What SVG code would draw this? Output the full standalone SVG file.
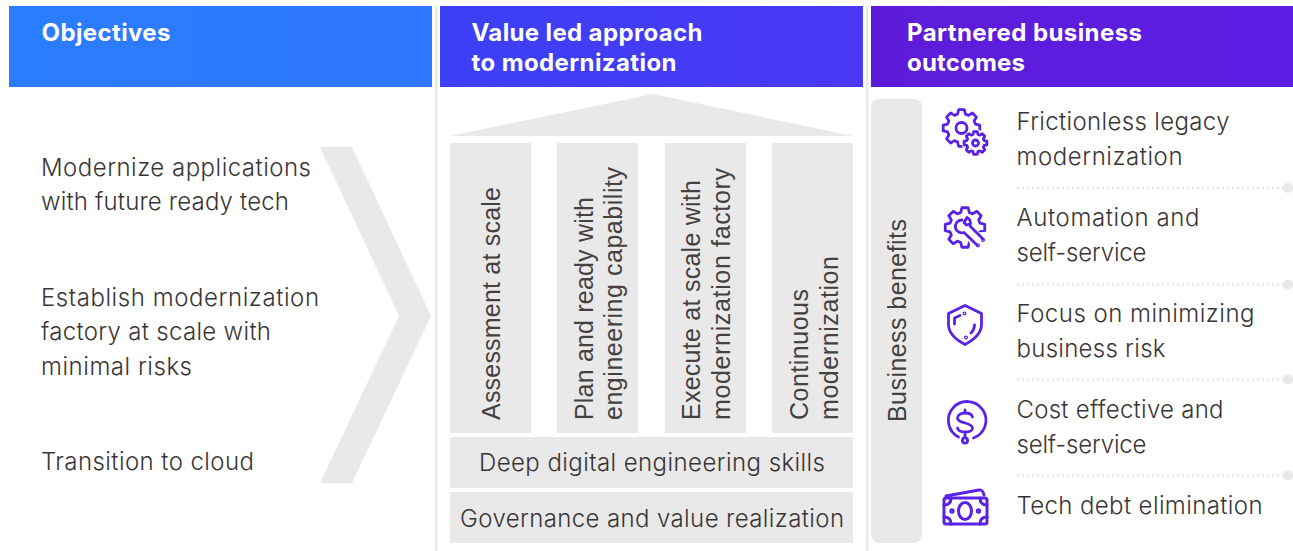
<svg xmlns="http://www.w3.org/2000/svg" width="1293" height="551" viewBox="0 0 1293 551">
<style>
.h{font:700 24px Inter,"Liberation Sans",sans-serif;fill:#fff}
.t{font:300 24px Inter,"Liberation Sans",sans-serif;fill:#3a3535}
.r{font:400 25px "Liberation Sans",Arial,sans-serif;fill:#454141}
.g{fill:#e9e9e9}
.i{fill:none;stroke:#5a22e6;stroke-width:2.8;stroke-linecap:round;stroke-linejoin:round}
.n{vector-effect:non-scaling-stroke}
.d{fill:none;stroke:#e9e9e9;stroke-width:3;stroke-dasharray:2 3}
</style>
<defs>
<linearGradient id="g1" x1="0" x2="1" y1="0" y2="0"><stop offset="0" stop-color="#2b7dff"/><stop offset="1" stop-color="#2f77ff"/></linearGradient>
<linearGradient id="g2" x1="0" x2="1" y1="0" y2="0"><stop offset="0" stop-color="#3c40f8"/><stop offset="1" stop-color="#4a38f4"/></linearGradient>
<linearGradient id="g3" x1="0" x2="1" y1="0" y2="0"><stop offset="0" stop-color="#5e1cd9"/><stop offset="1" stop-color="#5c1ee3"/></linearGradient>
<polygon id="gear" class="n" points="75,-21.500 98.800,-15.600 98.800,15.600 75,21.500 68.200,37.800 80.900,58.800 58.800,80.900 37.800,68.200 21.500,75 15.600,98.800 -15.600,98.800 -21.500,75 -37.800,68.200 -58.800,80.900 -80.900,58.800 -68.200,37.800 -75,21.500 -98.800,15.600 -98.800,-15.600 -75,-21.500 -68.200,-37.800 -80.900,-58.800 -58.800,-80.900 -37.800,-68.200 -21.500,-75 -15.600,-98.800 15.600,-98.800 21.500,-75 37.800,-68.200 58.800,-80.900 80.900,-58.800 68.200,-37.800"/>
</defs>
<g id="dividers"><rect class="g" x="435" y="6" width="2.5" height="545"/><rect class="g" x="866" y="6" width="2.5" height="545"/></g>
<g id="header-objectives"><rect x="9" y="6" width="423" height="81" fill="url(#g1)"/><text class="h" x="41.500" y="41" textLength="129">Objectives</text></g>
<g id="header-value"><rect x="440" y="6" width="423" height="81" fill="url(#g2)"/><text class="h" x="471.500" y="41" textLength="231">Value led approach</text><text class="h" x="471.500" y="71" textLength="205">to modernization</text></g>
<g id="header-outcomes"><rect x="871" y="6" width="422" height="81" fill="url(#g3)"/><text class="h" x="907" y="41" textLength="235">Partnered business</text><text class="h" x="907" y="71" textLength="118">outcomes</text></g>
<g id="chevron"><polygon class="g" points="320,147 352,147 431,316 352,483 320,483 399,316"/></g>
<g id="objectives"><text class="t" x="41" y="176" textLength="270">Modernize applications</text><text class="t" x="41" y="210" textLength="248">with future ready tech</text>
<text class="t" x="41" y="306" textLength="278">Establish modernization</text><text class="t" x="41" y="340" textLength="230">factory at scale with</text><text class="t" x="41" y="375" textLength="151">minimal risks</text>
<text class="t" x="41" y="470" textLength="213">Transition to cloud</text></g>
<g id="pediment"><polygon class="g" points="653,94 853,136 450,136"/></g>
<g id="col1"><rect class="g" x="450" y="143" width="81" height="290"/><text class="r" transform="translate(500,420) rotate(-90)" textLength="233">Assessment at scale</text></g>
<g id="col2"><rect class="g" x="557" y="143" width="81" height="290"/><text class="r" transform="translate(593,420) rotate(-90)" textLength="223">Plan and ready with</text><text class="r" transform="translate(622,420) rotate(-90)" textLength="253">engineering capability</text></g>
<g id="col3"><rect class="g" x="665" y="143" width="81" height="290"/><text class="r" transform="translate(700,420) rotate(-90)" textLength="240">Execute at scale with</text><text class="r" transform="translate(729.500,420) rotate(-90)" textLength="252">modernization factory</text></g>
<g id="col4"><rect class="g" x="772" y="143" width="81" height="290"/><text class="r" transform="translate(807.500,420) rotate(-90)" textLength="131">Continuous</text><text class="r" transform="translate(837.500,420) rotate(-90)" textLength="164">modernization</text></g>
<g id="bar1"><rect class="g" x="450" y="437" width="403" height="51"/><text class="t" x="479" y="471" textLength="346">Deep digital engineering skills</text></g>
<g id="bar2"><rect class="g" x="450" y="492" width="403" height="51"/><text class="t" x="460" y="527" textLength="384">Governance and value realization</text></g>
<g id="benefits"><rect class="g" x="871" y="99" width="51" height="444" rx="8"/><text class="r" transform="translate(906,422) rotate(-90)" textLength="203">Business benefits</text></g>
<g id="outcome1">
<g class="i"><use href="#gear" transform="translate(961.500,128) scale(.185)"/><circle cx="961.500" cy="128" r="5.500"/><circle cx="975.500" cy="143" r="13.500" fill="#fff" stroke="none"/><use href="#gear" transform="translate(975.500,143) scale(.115)"/><circle cx="975.500" cy="143" r="3"/></g>
<text class="t" x="1016.500" y="130" textLength="213">Frictionless legacy</text><text class="t" x="1016.500" y="165" textLength="166">modernization</text></g>
<g id="outcome2">
<g class="i"><use href="#gear" transform="translate(965,227.500) scale(.2)"/><polygon points="966,233 984,232 986,250 972,250" fill="#fff" stroke="none"/>
<path d="M962 220a6.500 6.500 0 0 0-6.500 8c1 3.500 4.500 5.500 8.500 4.500L977 245M983 239L970 226c1-3.500 0-7-3-8.500l-3 5 2.500 2.500 3-1"/><circle cx="978" cy="245.500" r=".6"/><circle cx="983" cy="240" r=".6"/></g>
<text class="t" x="1016.500" y="226" textLength="183">Automation and</text><text class="t" x="1016.500" y="261" textLength="130">self-service</text></g>
<g id="outcome3">
<g class="i"><path d="M965 305.500l16.500 8v11c0 8-7 15-16.500 20-9.500-5-16.500-12-16.500-20v-11z"/><path d="M954.500 324v-6l5.500-2.500M974.500 325c0 3-1.500 6-3.500 8"/><circle cx="964.500" cy="313.500" r=".6"/><circle cx="966" cy="337.500" r=".6"/></g>
<text class="t" x="1016.500" y="322" textLength="238">Focus on minimizing</text><text class="t" x="1016.500" y="357" textLength="149">business risk</text></g>
<g id="outcome4">
<g class="i"><path d="M958.500 437a18.800 18.800 0 1 1 15 1"/><path d="M972.500 417c-.5-2.500-3.500-4-7.500-4-4 0-7.500 2-7.500 5s3.500 4 7.500 5 7.500 2 7.500 5-3.500 4-7.500 4c-4 0-7-1.500-7.500-4M965 410v3M965 432v5"/><circle cx="965" cy="440.500" r="2.600"/></g>
<text class="t" x="1016.500" y="418" textLength="207">Cost effective and</text><text class="t" x="1016.500" y="453" textLength="130">self-service</text></g>
<g id="outcome5">
<g class="i" style="stroke-width:3"><rect x="944" y="498" width="43" height="26" rx="2"/><path d="M946 496l33-6c3-.5 4 1 5 5"/><ellipse cx="965" cy="511" rx="6.500" ry="8.500"/><path d="M944 505c4 0 7-2 7-7M987 505c-4 0-7-2-7-7M944 517c4 0 7 2 7 7M987 517c-4 0-7 2-7 7"/><circle cx="952" cy="511" r="1.200"/><circle cx="978.500" cy="511" r="1.200"/></g>
<text class="t" x="1016.500" y="514" textLength="246">Tech debt elimination</text></g>
<g id="connectors">
<path class="d" d="M1017 188H1284M1017 284.500H1284M1017 379.500H1284M1017 475.500H1284"/>
<circle class="g" cx="1288" cy="188" r="5"/><circle class="g" cx="1288" cy="284.500" r="5"/><circle class="g" cx="1288" cy="379.500" r="5"/><circle class="g" cx="1288" cy="475.500" r="5"/>
</g>
</svg>
